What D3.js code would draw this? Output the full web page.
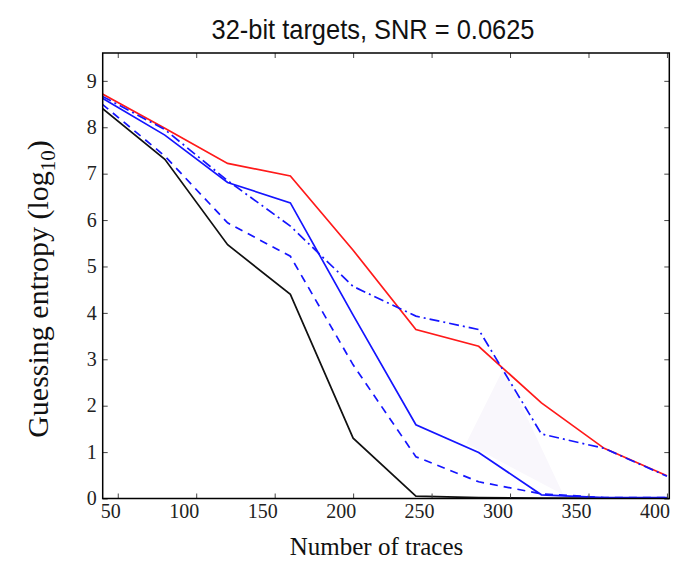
<!DOCTYPE html>
<html>
<head>
<meta charset="utf-8">
<script src="https://cdn.jsdelivr.net/npm/d3@7"></script>
<style>
  html, body { margin: 0; padding: 0; background: #fff; }
  svg { display: block; }
</style>
</head>
<body>
<svg id="chart" width="693" height="563"></svg>
<script>
// Number of traces at which guessing entropy was measured
const traces = [40, 80, 120, 160, 200, 240, 280, 320, 360, 400];

// Guessing entropy (log10) for each attack
const seriesRed      = [8.72, 7.98, 7.22, 6.95, 5.35, 3.64, 3.28, 2.06, 1.08, 0.49];
const seriesBlue     = [8.63, 7.83, 6.81, 6.37, 3.95, 1.59, 0.99, 0.08, 0.02, 0.02];
const seriesDashed   = [8.50, 7.38, 5.94, 5.22, 2.88, 0.90, 0.36, 0.10, 0.02, 0.02];
const seriesDashDot  = [8.67, 7.95, 6.85, 5.87, 4.57, 3.93, 3.64, 1.39, 1.08, 0.48];
const seriesBlack    = [8.41, 7.31, 5.47, 4.40, 1.30, 0.05, 0.02, 0.01, 0.01, 0.01];

// Faint shaded region between the curves (x in traces, y in log10)
const shadeX = [272, 296, 334];
const shadeY = [1.19, 2.81, 0.08];

const xTicks = [50, 100, 150, 200, 250, 300, 350, 400];
const yTicks = [0, 1, 2, 3, 4, 5, 6, 7, 8, 9];

const svg = d3.select("#chart");
const padL = 102.7, padR = 669.3, padT = 53, padB = 498.5;

const x = d3.scaleLinear().domain([40.4, 401.5]).range([padL, padR]);
const y = d3.scaleLinear().domain([0, 9.6]).range([padB, padT]);

const serif = "'Liberation Serif', 'DejaVu Serif', serif";

// Title (condensed sans)
svg.append("text")
  .attr("x", 373).attr("y", 39)
  .attr("text-anchor", "middle")
  .attr("font-family", "'Liberation Sans Narrow', 'Liberation Sans', sans-serif")
  .attr("font-size", 28)
  .attr("textLength", 323)
  .attr("lengthAdjust", "spacingAndGlyphs")
  .attr("fill", "#111")
  .text("32-bit targets, SNR = 0.0625");

const plot = svg.append("g");
plot.append("clipPath").attr("id", "clip")
  .append("rect").attr("x", padL).attr("y", padT)
  .attr("width", padR - padL).attr("height", padB - padT);

const area = plot.append("g").attr("clip-path", "url(#clip)");

// shaded triangle
area.append("path")
  .datum(shadeX.map((d, i) => [d, shadeY[i]]))
  .attr("d", d3.line().x(d => x(d[0])).y(d => y(d[1])).curve(d3.curveLinearClosed))
  .attr("fill", "#f9f7fc")
  .attr("stroke", "none");

const line = d3.line().x((d, i) => x(traces[i])).y(d => y(d));

const series = [
  { v: seriesBlack,   color: "#111111", dash: null },
  { v: seriesBlue,    color: "#1515ff", dash: null },
  { v: seriesDashed,  color: "#1515ff", dash: "8,6" },
  { v: seriesRed,     color: "#ff1a1a", dash: null },
  { v: seriesDashDot, color: "#1515ff", dash: "10,4,2,4" }
];

series.forEach(s => {
  area.append("path")
    .datum(s.v)
    .attr("d", line)
    .attr("fill", "none")
    .attr("stroke", s.color)
    .attr("stroke-width", 1.7)
    .attr("stroke-dasharray", s.dash)
    .attr("stroke-linejoin", "miter");
});

// Axes with inward ticks on all four sides
const tickLen = 5;
const xb = svg.append("g").attr("transform", `translate(0,${padB})`)
  .call(d3.axisBottom(x).tickValues(xTicks).tickSize(-tickLen).tickFormat(""));
const xt = svg.append("g").attr("transform", `translate(0,${padT})`)
  .call(d3.axisTop(x).tickValues(xTicks).tickSize(-tickLen).tickFormat(""));
const yl = svg.append("g").attr("transform", `translate(${padL},0)`)
  .call(d3.axisLeft(y).tickValues(yTicks).tickSize(-tickLen).tickFormat(""));
const yr = svg.append("g").attr("transform", `translate(${padR},0)`)
  .call(d3.axisRight(y).tickValues(yTicks).tickSize(-tickLen).tickFormat(""));
[xb, xt, yl, yr].forEach(g => {
  g.select(".domain").remove();
  g.selectAll(".tick line").attr("stroke", "#444").attr("stroke-width", 1);
});

// Frame
svg.append("rect")
  .attr("x", padL).attr("y", padT)
  .attr("width", padR - padL).attr("height", padB - padT)
  .attr("fill", "none").attr("stroke", "#000").attr("stroke-width", 1.5);

// Tick labels
svg.append("g").selectAll("text").data(xTicks).join("text")
  .attr("x", d => x(d) + 3).attr("y", padB + 19)
  .attr("text-anchor", "end")
  .attr("font-family", serif).attr("font-size", 20).attr("fill", "#222")
  .text(d => d);

svg.append("g").selectAll("text").data(yTicks).join("text")
  .attr("x", padL - 6).attr("y", d => y(d)).attr("dy", "0.34em")
  .attr("text-anchor", "end")
  .attr("font-family", serif).attr("font-size", 20).attr("fill", "#222")
  .text(d => d);

// Axis titles
svg.append("text")
  .attr("x", 376.5).attr("y", 555)
  .attr("text-anchor", "middle")
  .attr("font-family", serif).attr("font-size", 25).attr("fill", "#111")
  .text("Number of traces");

const yt = svg.append("text")
  .attr("transform", "translate(48,289) rotate(-90)")
  .attr("text-anchor", "middle")
  .attr("font-family", serif).attr("font-size", 30).attr("fill", "#111");
yt.append("tspan").text("Guessing entropy (log");
yt.append("tspan").attr("font-size", 21).attr("dy", 7).text("10");
yt.append("tspan").attr("dy", -7).text(")");
</script>
</body>
</html>
